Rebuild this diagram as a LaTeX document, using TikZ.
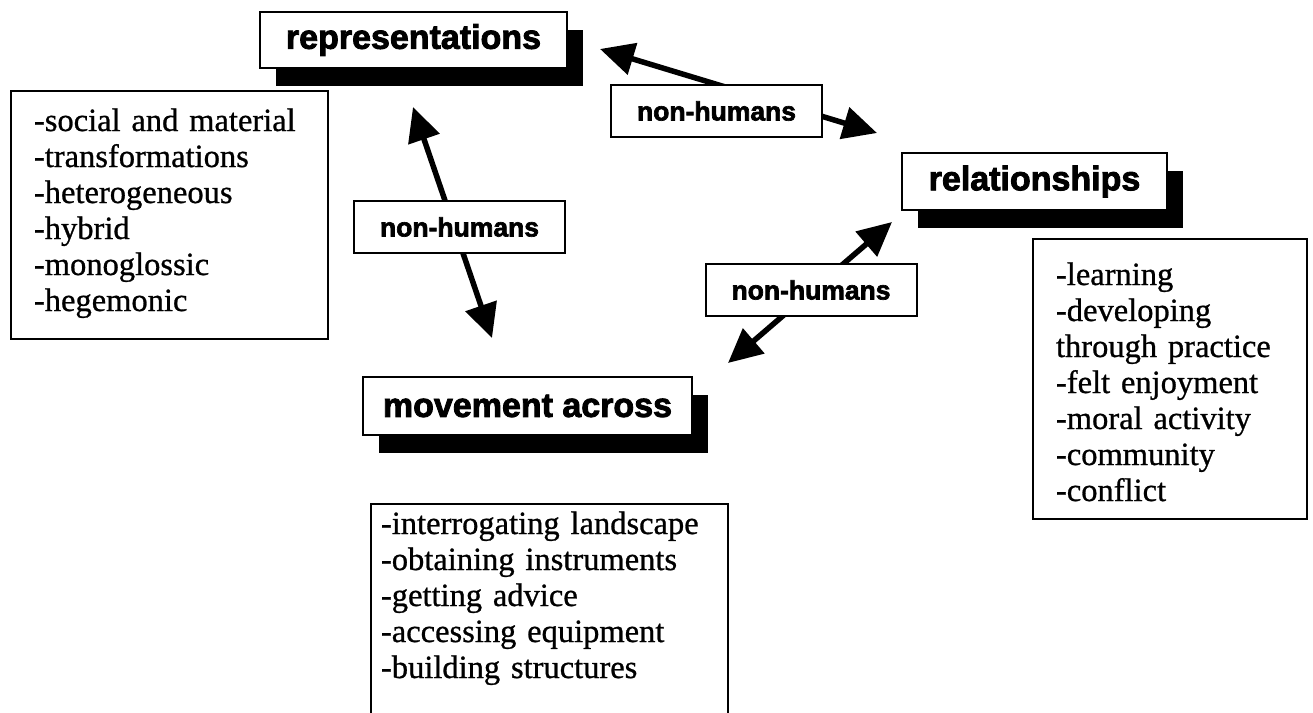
\documentclass[tikz,border=0pt]{standalone}
\usepackage{fontspec}
\setmainfont{Liberation Serif}[FakeBold=0.8]
\newfontfamily\headfont{Liberation Sans}[BoldFeatures={FakeBold=2.5}]
\usetikzlibrary{arrows.meta,shadows}

\begin{document}
\begin{tikzpicture}
[
	x=1pt,y=-1pt,
	title/.style={rectangle,draw,fill=white,line width=2.5,font=\headfont\bfseries\fontsize{34}{40}\selectfont,
		drop shadow={shadow xshift=16pt,shadow yshift=-18pt,fill=black,opacity=1}},
	lab/.style={rectangle,draw,fill=white,line width=2,minimum width=211pt,minimum height=52pt,font=\headfont\bfseries\fontsize{26.5}{30}\selectfont},
	list/.style={rectangle,draw,line width=2,anchor=north west,align=left,inner ysep=0pt,font=\fontsize{32.5}{36}\selectfont},
	big/.style={line width=5.5,{Triangle[length=34pt,width=32pt]}-{Triangle[length=34pt,width=32pt]}}
]

\path[use as bounding box,fill=white] (0,0) rectangle (1313,712);

\node[title,minimum width=307pt,minimum height=56pt] (rep) at (413.5,40) {representations};
\node[title,minimum width=265pt,minimum height=57pt] (rel) at (1034.5,181.5) {relationships};
\node[title,minimum width=329pt,minimum height=58pt] (mov) at (527.5,406) {movement across};

\node[list,inner xsep=23pt,text width=271pt,text height=40pt,text depth=208pt] (replist) at (10,90)
	{-social and material\\-transformations\\-heterogeneous\\-hybrid\\-monoglossic\\-hegemonic};
\node[list,inner xsep=23pt,text width=228pt,text height=46pt,text depth=234pt] (rellist) at (1032,238)
	{-learning\\-developing\\through practice\\-felt enjoyment\\-moral activity\\-community\\-conflict};
\node[list,inner xsep=10pt,text width=337pt,text height=30pt,text depth=250pt] (movlist) at (370,503)
	{-interrogating landscape\\-obtaining instruments\\-getting advice\\-accessing equipment\\-building structures};

\coordinate (a1) at (600,49);
\coordinate (a2) at (877,133);
\coordinate (b1) at (413,107);
\coordinate (b2) at (492,338);
\coordinate (c1) at (892,222);
\coordinate (c2) at (728,363);

\draw[big] (a1) -- (a2);
\draw[big] (b1) -- (b2);
\draw[big] (c1) -- (c2);

\node[lab] (nh1) at (716.5,111) {non-humans};
\node[lab] (nh2) at (459.5,227) {non-humans};
\node[lab] (nh3) at (811,290) {non-humans};

\end{tikzpicture}
\end{document}
